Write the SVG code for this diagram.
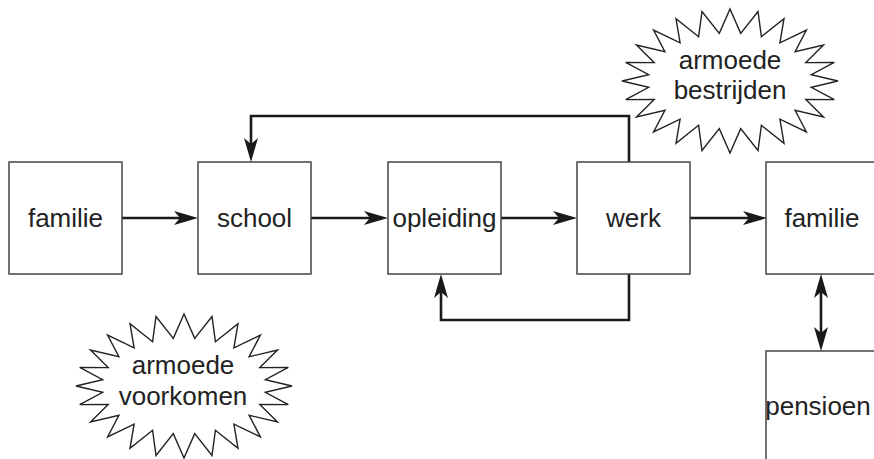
<svg xmlns="http://www.w3.org/2000/svg" xmlns:xlink="http://www.w3.org/1999/xlink" width="874" height="459" viewBox="0 0 874 459">
<style>
.box{fill:#fff;stroke:#444;stroke-width:1.5}
.lbl{font-family:"Liberation Sans",Arial,sans-serif;font-size:26px;fill:#222;text-anchor:middle}
.con{fill:none;stroke:#1a1a1a;stroke-width:2.6}
.star{fill:#fff;stroke:#222;stroke-width:1.4;stroke-linejoin:miter}
</style>
<defs>
<marker id="ah" markerUnits="userSpaceOnUse" markerWidth="30" markerHeight="20" refX="6" refY="0" viewBox="-2 -10 30 20" orient="auto-start-reverse">
<path d="M0,-7 L24,0 L0,7 L6,0 z" fill="#1a1a1a"/>
</marker>
<polygon id="star" points="108,0 81.3,6.3 104.3,18.6 75.8,18.4 93.5,36 65.1,29.2 76.4,50.9 49.9,38.1 54,62.4 31.4,44.3 28,69.5 10.7,47.6 0,72 -10.7,47.6 -28,69.5 -31.4,44.3 -54,62.4 -49.9,38.1 -76.4,50.9 -65.1,29.2 -93.5,36 -75.8,18.4 -104.3,18.6 -81.3,6.3 -108,0 -81.3,-6.3 -104.3,-18.6 -75.8,-18.4 -93.5,-36 -65.1,-29.2 -76.4,-50.9 -49.9,-38.1 -54,-62.4 -31.4,-44.3 -28,-69.5 -10.7,-47.6 0,-72 10.7,-47.6 28,-69.5 31.4,-44.3 54,-62.4 49.9,-38.1 76.4,-50.9 65.1,-29.2 93.5,-36 75.8,-18.4 104.3,-18.6 81.3,-6.3"/>
</defs>
<rect width="874" height="459" fill="#fff"/>
<g id="connectors">
<line class="con" x1="122" y1="218" x2="180" y2="218" marker-end="url(#ah)"/>
<line class="con" x1="311" y1="218" x2="370" y2="218" marker-end="url(#ah)"/>
<line class="con" x1="501" y1="218" x2="559" y2="218" marker-end="url(#ah)"/>
<line class="con" x1="690" y1="218" x2="749" y2="218" marker-end="url(#ah)"/>
<polyline class="con" points="629,162 629,116 251,116 251,144" marker-end="url(#ah)"/>
<polyline class="con" points="629,274 629,320 441,320 441,292" marker-end="url(#ah)"/>
<line class="con" x1="821" y1="292" x2="821" y2="333" marker-start="url(#ah)" marker-end="url(#ah)"/>
</g>
<g id="familie1"><rect class="box" x="9" y="162" width="113" height="112"/><text class="lbl" x="65.5" y="227">familie</text></g>
<g id="school"><rect class="box" x="198" y="162" width="113" height="112"/><text class="lbl" x="254.5" y="227">school</text></g>
<g id="opleiding"><rect class="box" x="388" y="162" width="113" height="112"/><text class="lbl" x="444.5" y="227">opleiding</text></g>
<g id="werk"><rect class="box" x="577" y="162" width="113" height="112"/><text class="lbl" x="633.5" y="227">werk</text></g>
<g id="familie2"><rect class="box" x="766" y="162" width="113" height="112"/><text class="lbl" x="822" y="227">familie</text></g>
<g id="pensioen"><rect class="box" x="766" y="351" width="113" height="112"/><text class="lbl" x="818" y="415">pensioen</text></g>
<g id="armoede-bestrijden"><use xlink:href="#star" class="star" transform="translate(730,81)"/><text class="lbl" x="730" y="69">armoede</text><text class="lbl" x="730" y="99">bestrijden</text></g>
<g id="armoede-voorkomen"><use xlink:href="#star" class="star" transform="translate(184,386)"/><text class="lbl" x="183" y="374">armoede</text><text class="lbl" x="183" y="405">voorkomen</text></g>
</svg>
